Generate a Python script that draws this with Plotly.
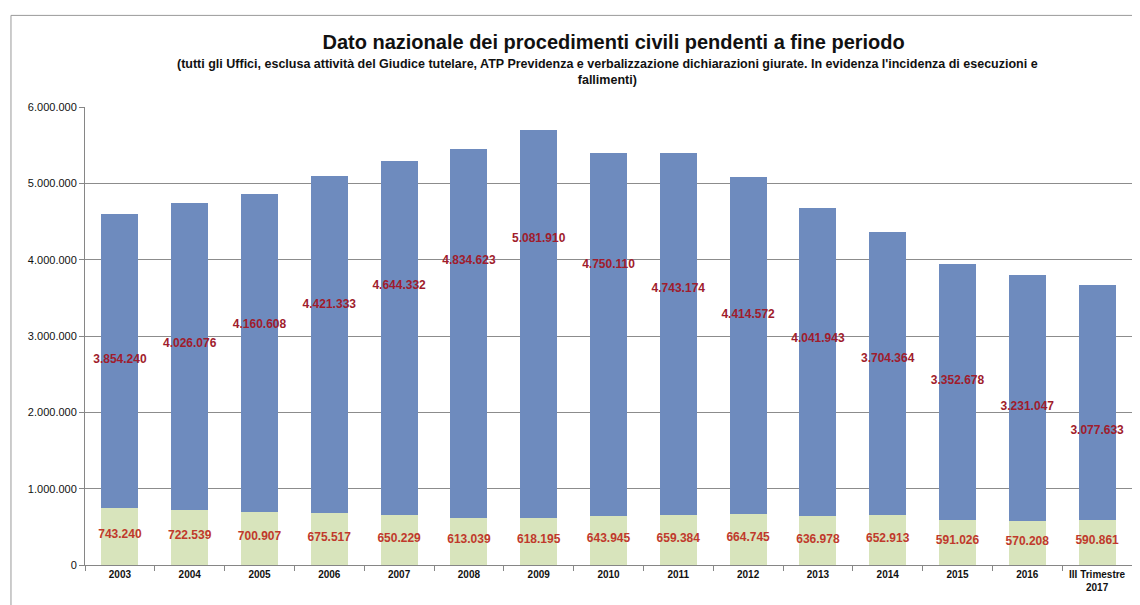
import plotly.graph_objects as go

# categorie (anni)
periods = ["2003", "2004", "2005", "2006", "2007", "2008", "2009", "2010",
           "2011", "2012", "2013", "2014", "2015", "2016", "III Trimestre<br>2017"]

# esecuzioni e fallimenti (parte bassa)
esecuzioni = [743240, 722539, 700907, 675517, 650229, 613039, 618195, 643945,
              659384, 664745, 636978, 652913, 591026, 570208, 590861]

# altri procedimenti civili (parte alta)
altri = [3854240, 4026076, 4160608, 4421333, 4644332, 4834623, 5081910, 4750110,
         4743174, 4414572, 4041943, 3704364, 3352678, 3231047, 3077633]

# altezza a cui sono poste le etichette della parte alta
label_height = [2680000, 2900000, 3150000, 3410000, 3660000, 3980000, 4270000, 3925000,
                3620000, 3280000, 2955000, 2705000, 2405000, 2075000, 1750000]

tick_vals = [0, 1000000, 2000000, 3000000, 4000000, 5000000, 6000000]
tick_text = ["0", "1.000.000", "2.000.000", "3.000.000", "4.000.000", "5.000.000", "6.000.000"]


def fmt(v):
    return f"{v:,}".replace(",", ".")


FONT = "Liberation Sans"

fig = go.Figure()
fig.add_trace(go.Bar(x=periods, y=esecuzioni, marker=dict(color="#d8e4bc", line=dict(width=0)),
                     name="esecuzioni e fallimenti", hoverinfo="skip"))
fig.add_trace(go.Bar(x=periods, y=altri, marker=dict(color="#6e8bbe", line=dict(width=0)),
                     name="altri", hoverinfo="skip"))

# etichette parte bassa, al centro del segmento
fig.add_trace(go.Scatter(x=periods, y=[v / 2 + 15000 for v in esecuzioni], mode="text",
                         text=[f"<b>{fmt(v)}</b>" for v in esecuzioni],
                         textfont=dict(family=FONT, size=12, color="#c0392b"),
                         hoverinfo="skip", showlegend=False))
# etichette parte alta
fig.add_trace(go.Scatter(x=periods, y=label_height, mode="text",
                         text=[f"<b>{fmt(v)}</b>" for v in altri],
                         textfont=dict(family=FONT, size=12, color="#a01c2c"),
                         hoverinfo="skip", showlegend=False))

# la pagina ha un margine di 8px: la figura è ridotta di conseguenza
fig.update_layout(
    width=1132, height=597,
    barmode="stack", bargap=0.47,
    showlegend=False,
    plot_bgcolor="white", paper_bgcolor="white",
    margin=dict(l=77, r=8, t=99, b=40, autoexpand=False),
    font=dict(family=FONT, size=10, color="#222222"),
    title=dict(
        text="<b>Dato nazionale dei procedimenti civili pendenti a fine periodo</b>",
        x=0.535, xanchor="center", y=0.943, yanchor="middle",
        font=dict(family=FONT, size=20, color="#111111"),
    ),
    annotations=[
        dict(text="<b>(tutti gli Uffici, esclusa attività del Giudice tutelare, ATP Previdenza e verbalizzazione "
                  "dichiarazioni giurate. In evidenza l'incidenza di esecuzioni e<br>fallimenti)</b>",
             xref="paper", yref="paper", x=0.4995, y=1.04, xanchor="center", yanchor="bottom",
             showarrow=False, align="center", font=dict(family=FONT, size=12.5, color="#111111")),
    ],
    shapes=[
        dict(type="rect", xref="paper", yref="paper", x0=-0.0707, x1=1.0067, y0=-0.2, y1=1.2,
             line=dict(color="#9a9a9a", width=1), fillcolor="rgba(0,0,0,0)", layer="below"),
    ],
)

fig.update_xaxes(range=[-0.5, len(periods) - 0.5],
                 showgrid=False, showline=True, linecolor="#868686", linewidth=1, automargin=False,
                 ticks="outside", ticklen=5, tickcolor="#868686", tickson="boundaries",
                 tickfont=dict(family=FONT, size=10, color="#111111"),
                 tickprefix="<b>", ticksuffix="</b>")
fig.update_yaxes(range=[0, 6000000], tickvals=tick_vals, ticktext=tick_text, automargin=False,
                 showgrid=True, gridcolor="#8c8c8c", gridwidth=1,
                 showline=True, linecolor="#868686", linewidth=1,
                 ticks="outside", ticklen=5, tickcolor="#868686", zeroline=False,
                 tickfont=dict(family=FONT, size=11, color="#111111"))

fig.write_html("out.html")
